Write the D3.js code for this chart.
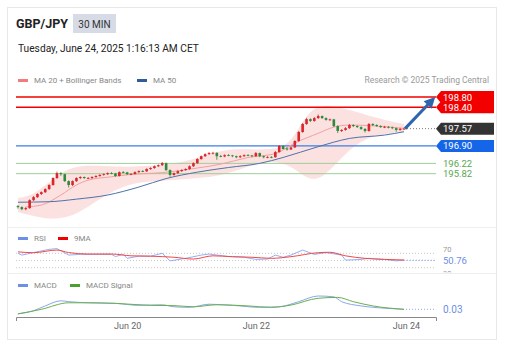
<!DOCTYPE html>
<html>
<head>
<meta charset="utf-8">
<script src="https://cdn.jsdelivr.net/npm/d3@7"></script>
<style>
body { margin: 0; background: #fff; font-family: Roboto, "Noto Sans", sans-serif; }
</style>
</head>
<body>
<div id="chart"></div>
<script>
var w = 514;
var h = 352;

var pair = "GBP/JPY";
var timeframe = "30 MIN";
var stamp = "Tuesday, June 24, 2025 1:16:13 AM CET";
var credit = "Research \u00a9 2025 Trading Central";

// 30 min candles: [open, high, low, close]
var candles = [
    [194.56, 194.60, 194.46, 194.52], [194.52, 194.55, 194.40, 194.44], [194.44, 194.52, 194.40, 194.48],
    [194.48, 194.82, 194.46, 194.79], [194.79, 194.95, 194.76, 194.91], [194.91, 195.06, 194.88, 195.03],
    [195.03, 195.13, 194.99, 195.10], [195.10, 195.25, 195.07, 195.22], [195.22, 195.41, 195.19, 195.38],
    [195.38, 195.68, 195.35, 195.65], [195.65, 195.90, 195.62, 195.84], [195.84, 195.88, 195.74, 195.80],
    [195.80, 195.82, 195.50, 195.53], [195.53, 195.56, 195.28, 195.38], [195.38, 195.56, 195.34, 195.53],
    [195.53, 195.68, 195.50, 195.65], [195.65, 195.72, 195.61, 195.69], [195.69, 195.71, 195.62, 195.65],
    [195.64, 195.69, 195.61, 195.65], [195.65, 195.72, 195.62, 195.69], [195.69, 195.76, 195.66, 195.73],
    [195.73, 195.80, 195.70, 195.77], [195.77, 195.83, 195.74, 195.80], [195.80, 195.87, 195.77, 195.84],
    [195.84, 195.88, 195.80, 195.83], [195.83, 195.85, 195.70, 195.73], [195.73, 195.91, 195.71, 195.88],
    [195.88, 195.92, 195.84, 195.87], [195.87, 195.89, 195.77, 195.80], [195.80, 195.84, 195.76, 195.81],
    [195.81, 195.91, 195.78, 195.88], [195.88, 195.95, 195.85, 195.92], [195.92, 195.96, 195.88, 195.91],
    [195.91, 196.03, 195.89, 196.00], [196.00, 196.07, 195.97, 196.04], [196.04, 196.14, 196.01, 196.11],
    [196.11, 196.18, 196.08, 196.15], [196.15, 196.27, 196.12, 196.23], [196.23, 196.25, 195.93, 195.96],
    [195.96, 195.99, 195.70, 195.77], [195.77, 195.87, 195.74, 195.84], [195.84, 195.95, 195.81, 195.92],
    [195.92, 195.99, 195.89, 195.96], [195.96, 196.03, 195.93, 196.00], [196.00, 196.14, 195.97, 196.11],
    [196.11, 196.26, 196.08, 196.23], [196.23, 196.42, 196.20, 196.39], [196.39, 196.53, 196.36, 196.50],
    [196.50, 196.61, 196.47, 196.58], [196.58, 196.66, 196.55, 196.62], [196.62, 196.67, 196.57, 196.63],
    [196.63, 196.65, 196.36, 196.50], [196.50, 196.55, 196.46, 196.49], [196.49, 196.57, 196.46, 196.54],
    [196.54, 196.58, 196.50, 196.53], [196.53, 196.55, 196.46, 196.50], [196.50, 196.52, 196.42, 196.46],
    [196.46, 196.54, 196.43, 196.50], [196.50, 196.57, 196.47, 196.54], [196.54, 196.58, 196.50, 196.53],
    [196.53, 196.55, 196.46, 196.50], [196.50, 196.66, 196.47, 196.62], [196.62, 196.64, 196.46, 196.50],
    [196.50, 196.52, 196.42, 196.46], [196.46, 196.50, 196.42, 196.47], [196.47, 196.50, 196.42, 196.46],
    [196.46, 196.70, 196.44, 196.66], [196.66, 196.93, 196.64, 196.90], [196.90, 196.92, 196.76, 196.78],
    [196.80, 196.84, 196.72, 196.76], [196.76, 196.87, 196.74, 196.84], [196.84, 197.12, 196.82, 197.09],
    [197.09, 197.48, 197.06, 197.44], [197.44, 197.79, 197.41, 197.75], [197.75, 197.99, 197.72, 197.94],
    [197.94, 197.97, 197.83, 197.87], [197.87, 198.02, 197.84, 197.98], [197.98, 198.12, 197.95, 198.06],
    [198.06, 198.08, 197.95, 197.98], [197.98, 198.01, 197.88, 197.91], [197.91, 197.96, 197.87, 197.93],
    [197.93, 197.95, 197.63, 197.67], [197.67, 197.70, 197.40, 197.48], [197.48, 197.55, 197.44, 197.52],
    [197.52, 197.63, 197.49, 197.59], [197.59, 197.75, 197.56, 197.71], [197.71, 197.74, 197.63, 197.67],
    [197.67, 197.70, 197.60, 197.63], [197.63, 197.66, 197.52, 197.56], [197.56, 197.59, 197.42, 197.48],
    [197.48, 197.79, 197.45, 197.75], [197.75, 197.78, 197.67, 197.71], [197.71, 197.74, 197.64, 197.67],
    [197.67, 197.70, 197.60, 197.63], [197.63, 197.68, 197.59, 197.64], [197.64, 197.67, 197.58, 197.62],
    [197.62, 197.65, 197.55, 197.59], [197.59, 197.61, 197.45, 197.52], [197.52, 197.60, 197.49, 197.56],
    [197.56, 197.61, 197.52, 197.57]
];

// moving averages, [candle index, price]
var ma20 = [[2, 194.53], [6, 194.60], [11, 194.99], [15, 195.38], [18, 195.57], [24, 195.70], [29, 195.79],
    [37, 195.86], [46, 196.04], [52, 196.19], [59, 196.45], [66, 196.60], [71, 197.01], [77, 197.39],
    [81, 197.63], [85, 197.71], [94, 197.65], [99, 197.58]];
var ma50 = [[0, 194.71], [8, 194.73], [15, 194.83], [23, 194.99], [31, 195.30], [38, 195.63], [46, 195.88],
    [54, 196.06], [62, 196.22], [68, 196.45], [77, 196.87], [85, 197.19], [94, 197.32], [99, 197.45]];

// bollinger bands
var bandIdx = [0, 4, 8, 12, 16, 22, 28, 34, 40, 46, 52, 58, 64, 69, 72, 75, 78, 82, 86, 90, 94, 99];
var bandUpper = [194.87, 194.99, 195.49, 195.96, 196.15, 196.12, 196.08, 196.12, 196.19, 196.43, 196.74,
    196.78, 196.74, 196.86, 197.59, 198.29, 198.49, 198.41, 198.26, 198.06, 197.91, 197.75];
var bandLower = [194.33, 194.17, 194.05, 194.09, 194.33, 194.95, 195.42, 195.53, 195.57, 195.65, 195.73,
    196.04, 196.35, 196.19, 195.88, 195.57, 195.65, 196.27, 196.89, 197.24, 197.36, 197.44];

var resistances = [198.80, 198.40];
var pivot = 196.90;
var supports = [196.22, 195.82];
var lastPrice = 197.57;
var target = [107, 198.80];

// RSI and its 9 period average, [candle index, value]
var rsi = [[0, 70], [1, 65], [4, 72], [8, 81], [10, 83], [13, 65], [16, 67], [21, 67], [24, 67], [25, 61],
    [27, 67], [28, 56], [31, 62], [34, 62], [37, 70], [39, 49], [43, 56], [47, 65], [49, 68], [54, 61],
    [58, 59], [61, 53], [64, 54], [66, 65], [68, 59], [70, 65], [73, 79], [76, 67], [79, 72], [83, 65],
    [84, 51], [88, 53], [90, 56], [94, 53], [97, 49], [99, 50.76]];
var rsiMa = [[0, 74], [4, 71.7], [10, 79], [13, 72], [18, 68], [24, 68], [29, 63], [34, 62], [40, 59],
    [45, 54], [50, 63], [55, 60.6], [60, 59], [65, 56], [70, 60.6], [77, 71.7], [80, 72.8], [84, 63],
    [89, 56], [94, 53], [99, 51.4]];
var rsiLevels = [70, 50, 30];
var rsiLast = 50.76;

// MACD and signal, [candle index, value]
var macd = [[0, -0.05], [4, 0.005], [7, 0.09], [11, 0.18], [13, 0.165], [18, 0.145], [25, 0.135], [31, 0.10],
    [37, 0.11], [40, 0.075], [44, 0.065], [49, 0.12], [55, 0.10], [62, 0.065], [67, 0.075], [72, 0.165],
    [77, 0.265], [81, 0.25], [83, 0.165], [88, 0.09], [94, 0.05], [99, 0.03]];
var macdSignal = [[0, -0.05], [6, 0.03], [13, 0.145], [18, 0.145], [25, 0.135], [34, 0.10], [40, 0.095],
    [45, 0.075], [51, 0.11], [59, 0.09], [65, 0.065], [70, 0.105], [77, 0.225], [82, 0.24], [86, 0.165],
    [91, 0.09], [99, 0.03]];
var macdLast = 0.03;

var tickIdx = [28, 61, 99.5];
var tickLabels = ["Jun 20", "Jun 22", "Jun 24"];

var svg = d3.select("#chart").append("svg").attr("width", w).attr("height", h);

var xScale = d3.scaleLinear().domain([-0.5, 107.2]).range([16, 436]);
var yScale = d3.scaleLinear().domain([194.0, 199.1]).range([220.5, 89.3]);
var yRsi = d3.scaleLinear().domain([30, 70]).range([267.7, 253.3]);
var yMacd = d3.scaleLinear().domain([-0.1, 0.3]).range([316.7, 294]);

var labelX = 436;
var red = "#f20000", blue = "#1565e8", green = "#58a84f";

// ***** card *****
svg.append("rect").attr("x", 7.5).attr("y", 7.5).attr("width", 489).attr("height", 332)
    .attr("fill", "#fff").attr("stroke", "#e8e8e8");
svg.append("line").attr("x1", 8).attr("x2", 496).attr("y1", 227.5).attr("y2", 227.5).attr("stroke", "#eeeeee");
svg.append("line").attr("x1", 8).attr("x2", 496).attr("y1", 273.5).attr("y2", 273.5).attr("stroke", "#eeeeee");

// ***** header *****
svg.append("text").attr("x", 16).attr("y", 28).attr("font-size", 12.5).attr("font-weight", "bold")
    .attr("fill", "#222").text(pair);
svg.append("rect").attr("x", 73).attr("y", 14).attr("width", 43).attr("height", 19).attr("fill", "#d7dbe6");
svg.append("text").attr("x", 94.5).attr("y", 27.5).attr("text-anchor", "middle").attr("font-size", 10)
    .attr("fill", "#333").text(timeframe);
svg.append("text").attr("x", 18).attr("y", 51.5).attr("font-size", 10.2).attr("fill", "#222").text(stamp);

function legend(items, y) {
    var g = svg.append("g");
    items.forEach(function (it) {
        g.append("rect").attr("x", it[0]).attr("y", y - 4).attr("width", 10).attr("height", 3).attr("fill", it[2]);
        g.append("text").attr("x", it[0] + 16).attr("y", y).attr("font-size", 8).attr("fill", "#888").text(it[1]);
    });
}
legend([[18, "MA 20 + Bollinger Bands", "#f27b7b"], [137, "MA 50", "#2f5d9c"]], 83);
legend([[18, "RSI", "#6d8fe6"], [58, "9MA", "#f20000"]], 241);
legend([[18, "MACD", "#6d8fe6"], [70, "MACD Signal", "#4aa02c"]], 288);

svg.append("text").attr("x", 489).attr("y", 83).attr("text-anchor", "end").attr("font-size", 8.5)
    .attr("fill", "#9a9a9a").text(credit);

// ***** main panel *****
var band = d3.area()
    .x(function (d, i) { return xScale(bandIdx[i]); })
    .y0(function (d, i) { return yScale(bandLower[i]); })
    .y1(function (d, i) { return yScale(bandUpper[i]); })
    .curve(d3.curveBasis);
svg.append("path").datum(bandIdx).attr("d", band).attr("fill", "#fbdcdc").attr("opacity", 0.85);

var priceLine = d3.line()
    .x(function (d) { return xScale(d[0]); })
    .y(function (d) { return yScale(d[1]); })
    .curve(d3.curveMonotoneX);

function hLine(v, color, width) {
    svg.append("line").attr("x1", 16).attr("x2", labelX).attr("y1", yScale(v)).attr("y2", yScale(v))
        .attr("stroke", color).attr("stroke-width", width);
}
resistances.forEach(function (v) { hLine(v, red, 1.5); });
hLine(pivot, "#3d7ee6", 1.2);
supports.forEach(function (v) { hLine(v, "#9fcf98", 1); });

svg.append("path").datum(ma20).attr("d", priceLine).attr("fill", "none").attr("stroke", "#f3a0a0").attr("stroke-width", 1);
svg.append("path").datum(ma50).attr("d", priceLine).attr("fill", "none").attr("stroke", "#4d73aa").attr("stroke-width", 1);

var cg = svg.append("g");
candles.forEach(function (c, i) {
    var col = c[3] >= c[0] ? "#d8262b" : "#2c8a3a";
    var cx = xScale(i);
    cg.append("line").attr("x1", cx).attr("x2", cx).attr("y1", yScale(c[1])).attr("y2", yScale(c[2]))
        .attr("stroke", col).attr("stroke-width", 0.8);
    var top = yScale(Math.max(c[0], c[3])), bot = yScale(Math.min(c[0], c[3]));
    cg.append("rect").attr("x", cx - 1.3).attr("y", top).attr("width", 2.6)
        .attr("height", Math.max(bot - top, 0.8)).attr("fill", col);
});

// last price dotted
var lastI = candles.length - 1;
svg.append("line").attr("x1", xScale(lastI) + 3).attr("x2", labelX).attr("y1", yScale(lastPrice)).attr("y2", yScale(lastPrice))
    .attr("stroke", "#777").attr("stroke-dasharray", "1,2");

// projection arrow
var ax0 = xScale(lastI) + 1, ay0 = yScale(lastPrice);
var ax1 = xScale(target[0]), ay1 = yScale(target[1]);
var ang = Math.atan2(ay1 - ay0, ax1 - ax0);
svg.append("line").attr("x1", ax0).attr("y1", ay0)
    .attr("x2", ax1 - 8 * Math.cos(ang)).attr("y2", ay1 - 8 * Math.sin(ang))
    .attr("stroke", "#2e66ad").attr("stroke-width", 3);
svg.append("path").attr("fill", "#2e66ad").attr("d", d3.line()([
    [ax1, ay1],
    [ax1 - 11 * Math.cos(ang) + 5.5 * Math.sin(ang), ay1 - 11 * Math.sin(ang) - 5.5 * Math.cos(ang)],
    [ax1 - 11 * Math.cos(ang) - 5.5 * Math.sin(ang), ay1 - 11 * Math.sin(ang) + 5.5 * Math.cos(ang)]
]) + "Z");

// price tags
function tag(v, fill) {
    var cy = yScale(v);
    svg.append("path").attr("fill", fill).attr("d", d3.line()([
        [labelX, cy], [labelX + 5, cy - 6], [494, cy - 6], [494, cy + 6], [labelX + 5, cy + 6]
    ]) + "Z");
    svg.append("text").attr("x", 443).attr("y", cy + 3.5).attr("font-size", 9.5).attr("fill", "#fff").text(v.toFixed(2));
}
resistances.forEach(function (v) { tag(v, red); });
tag(lastPrice, "#333333");
tag(pivot, blue);
supports.forEach(function (v) {
    svg.append("text").attr("x", 443).attr("y", yScale(v) + 3.5).attr("font-size", 9.5).attr("fill", green).text(v.toFixed(2));
});

// ***** RSI panel *****
var clip = svg.append("clipPath").attr("id", "rsiClip");
clip.append("rect").attr("x", 8).attr("y", 246).attr("width", 488).attr("height", 26.5);
var rg = svg.append("g").attr("clip-path", "url(#rsiClip)");
rsiLevels.forEach(function (v) {
    rg.append("line").attr("x1", 16).attr("x2", labelX).attr("y1", yRsi(v)).attr("y2", yRsi(v))
        .attr("stroke", "#c8c8c8").attr("stroke-dasharray", "1,2");
});
rg.append("text").attr("x", 443).attr("y", yRsi(70) - 1.5).attr("font-size", 7.5).attr("fill", "#999").text("70");
rg.append("text").attr("x", 443).attr("y", yRsi(30) + 8).attr("font-size", 7.5).attr("fill", "#999").text("30");
var rsiLine = d3.line().x(function (d) { return xScale(d[0]); }).y(function (d) { return yRsi(d[1]); });
rg.append("path").datum(rsi).attr("d", rsiLine).attr("fill", "none").attr("stroke", "#8aa6ef").attr("stroke-width", 0.9);
rg.append("path").datum(rsiMa).attr("d", rsiLine.curve(d3.curveMonotoneX)).attr("fill", "none")
    .attr("stroke", "#f04848").attr("stroke-width", 1);
rg.append("line").attr("x1", xScale(lastI)).attr("x2", labelX).attr("y1", yRsi(rsiLast)).attr("y2", yRsi(rsiLast))
    .attr("stroke", "#8aa6ef").attr("stroke-dasharray", "1,2");
svg.append("text").attr("x", 443).attr("y", yRsi(rsiLast) + 3.8).attr("font-size", 9.5).attr("fill", "#6d8fe6").text(rsiLast.toFixed(2));

// ***** MACD panel *****
var macdLine = d3.line().x(function (d) { return xScale(d[0]); }).y(function (d) { return yMacd(d[1]); })
    .curve(d3.curveMonotoneX);
svg.append("path").datum(macd).attr("d", macdLine).attr("fill", "none").attr("stroke", "#8aa6ef").attr("stroke-width", 1);
svg.append("path").datum(macdSignal).attr("d", macdLine).attr("fill", "none").attr("stroke", "#6ab04c").attr("stroke-width", 1);
svg.append("line").attr("x1", xScale(lastI) + 2).attr("x2", labelX).attr("y1", yMacd(macdLast)).attr("y2", yMacd(macdLast))
    .attr("stroke", "#8aa6ef").attr("stroke-dasharray", "1,2");
svg.append("text").attr("x", 443).attr("y", yMacd(macdLast) + 3.5).attr("font-size", 10).attr("fill", "#6d8fe6").text(macdLast.toFixed(2));

// ***** x axis *****
var xAxis = d3.axisBottom(xScale).tickValues(tickIdx)
    .tickFormat(function (d, i) { return tickLabels[i]; })
    .tickSize(0).tickSizeOuter(4).tickPadding(6);
var ax = svg.append("g").attr("transform", "translate(0,317)").call(xAxis);
ax.select(".domain").attr("stroke", "#888");
ax.selectAll("text").attr("font-size", 9).attr("fill", "#666").attr("font-family", "Roboto, sans-serif");
</script>
</body>
</html>
